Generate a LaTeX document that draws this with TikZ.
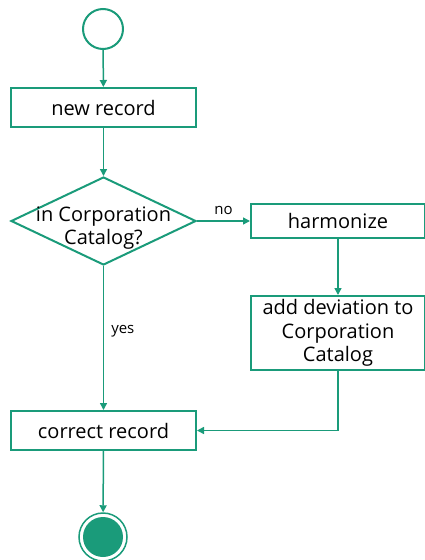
\documentclass[tikz,border=0pt]{standalone}
\usepackage{fontspec}
\setmainfont{Open Sans}
\usetikzlibrary{shapes.geometric,arrows.meta}
\definecolor{teal1}{RGB}{26,155,122}
\begin{document}
\begin{tikzpicture}[x=1pt,y=-1pt,
  actbox/.style={draw=teal1,line width=2pt,rectangle,inner sep=0pt,align=center,font=\fontsize{20}{23.5}\selectfont},
  decbox/.style={draw=teal1,line width=2pt,diamond,inner sep=0pt,minimum width=185pt,minimum height=88pt},
  txt/.style={align=center,inner sep=0pt,font=\fontsize{20}{23.5}\selectfont},
  conn/.style={draw=teal1,line width=1.5pt,-{Triangle[length=7pt,width=7pt]}},
  lbl/.style={font=\fontsize{15}{17}\selectfont,inner sep=0pt}]
\useasboundingbox (0,0) rectangle (424,560);
\node[circle,draw=teal1,line width=2pt,minimum size=40pt,inner sep=0pt] (start) at (103,29) {};
\node[actbox,minimum width=185pt,minimum height=39pt] (new) at (103.5,107.5) {new record};
\node[decbox] (dec) at (103.5,221) {};
\node[txt] (dectxt) at (103.5,228) {in Corporation\\Catalog?};
\node[actbox,minimum width=174pt,minimum height=34pt] (harm) at (338,221) {harmonize};
\node[actbox,minimum width=174pt,minimum height=74pt] (add) at (338,333) {add deviation to\\Corporation\\Catalog};
\node[actbox,minimum width=185pt,minimum height=39pt] (corr) at (103.5,430.5) {correct record};
\node[circle,draw=teal1,line width=1.5pt,minimum size=48pt,inner sep=0pt] (endo) at (103,537) {};
\node[circle,fill=teal1,minimum size=40pt,inner sep=0pt] (endi) at (103,537) {};
\draw[conn] (start) -- (new);
\draw[conn] (new) -- (dec);
\draw[conn] (dec) -- node[lbl,above,yshift=6pt] {no} (harm);
\draw[conn] (harm) -- (add);
\draw[conn] (dec) -- node[lbl,right,xshift=7pt,pos=0.45] {yes} (corr);
\draw[conn] (add.south) |- (corr.east);
\draw[conn] (corr) -- (endo);
\end{tikzpicture}
\end{document}
